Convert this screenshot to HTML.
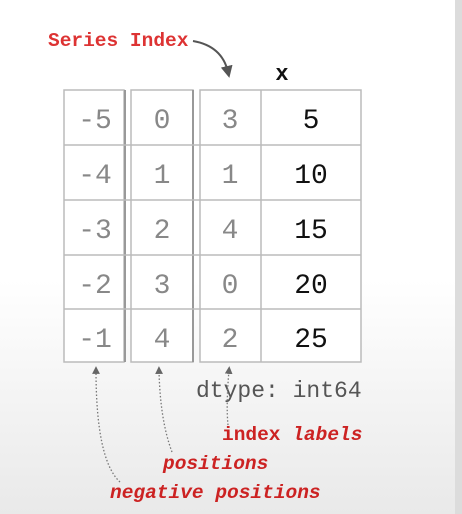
<!DOCTYPE html>
<html><head><meta charset="utf-8"><style>
html,body{margin:0;padding:0}
body{width:462px;height:514px;overflow:hidden;background:linear-gradient(#fff 0,#fff 280px,#e9e9e9 514px)}
svg{display:block}
</style></head><body>
<svg width="462" height="514" xmlns="http://www.w3.org/2000/svg">
<defs>
<marker id="a" markerWidth="6" markerHeight="6" refX="3" refY="3" orient="auto"><path d="M0,0 L6,3 L0,6 z" fill="#555"/></marker>
<marker id="s" markerWidth="6" markerHeight="6" refX="3" refY="3" orient="auto"><path d="M0,0 L6,3 L0,6 z" fill="#666"/></marker>
</defs>
<rect x="455" y="0" width="7" height="514" fill="#dcdcdc"/>
<g fill="#fff" stroke="#bbb" stroke-width="1.5">
<rect x="64" y="90" width="60" height="272"/>
<rect x="131" y="90" width="62" height="272"/>
<rect x="200" y="90" width="161" height="272"/>
</g>
<g stroke="#999" stroke-width="2">
<line x1="125" y1="90" x2="125" y2="362"/>
<line x1="193" y1="90" x2="193" y2="362"/>
</g>
<g stroke="#bbb" stroke-width="1.5">
<line x1="261" y1="90" x2="261" y2="362"/>
<line x1="64" y1="145" x2="361" y2="145"/>
<line x1="64" y1="200" x2="361" y2="200"/>
<line x1="64" y1="255" x2="361" y2="255"/>
<line x1="64" y1="309" x2="361" y2="309"/>
</g>
<g font-family="Liberation Mono, monospace" font-size="28" text-anchor="middle" fill="#888">
<text x="95" y="128">-5</text><text x="95" y="183">-4</text><text x="95" y="238">-3</text><text x="95" y="293">-2</text><text x="95" y="347">-1</text>
<text x="162" y="128">0</text><text x="162" y="183">1</text><text x="162" y="238">2</text><text x="162" y="293">3</text><text x="162" y="347">4</text>
<text x="230" y="128">3</text><text x="230" y="183">1</text><text x="230" y="238">4</text><text x="230" y="293">0</text><text x="230" y="347">2</text>
</g>
<g font-family="Liberation Mono, monospace" font-size="28" text-anchor="middle" fill="#111">
<text x="311" y="128">5</text><text x="311" y="183">10</text><text x="311" y="238">15</text><text x="311" y="293">20</text><text x="311" y="347">25</text>
</g>
<text x="282" y="80" font-family="Liberation Mono, monospace" font-size="22" font-weight="bold" text-anchor="middle" fill="#111">x</text>
<text x="48" y="46" font-family="Liberation Mono, monospace" font-size="19.5" font-weight="bold" fill="#d33">Series Index</text>
<path d="M193,41 Q222,46 228,72" fill="none" stroke="#555" stroke-width="2" marker-end="url(#a)"/>
<text x="196" y="397" font-family="Liberation Mono, monospace" font-size="23" fill="#555">dtype: int64</text>
<g font-family="Liberation Mono, monospace" font-size="19.5" font-weight="bold" fill="#c22">
<text x="222" y="440">index <tspan font-style="italic">labels</tspan></text>
<text x="163" y="469" font-style="italic">positions</text>
<text x="110" y="498" font-style="italic">negative positions</text>
</g>
<g fill="none" stroke="#777" stroke-width="1.3" stroke-dasharray="1.5,2">
<path d="M228,425 Q226,405 229,370" marker-end="url(#s)"/>
<path d="M172,452 Q160,420 159,370" marker-end="url(#s)"/>
<path d="M120,482 Q96,460 96,370" marker-end="url(#s)"/>
</g>
</svg>
</body></html>
